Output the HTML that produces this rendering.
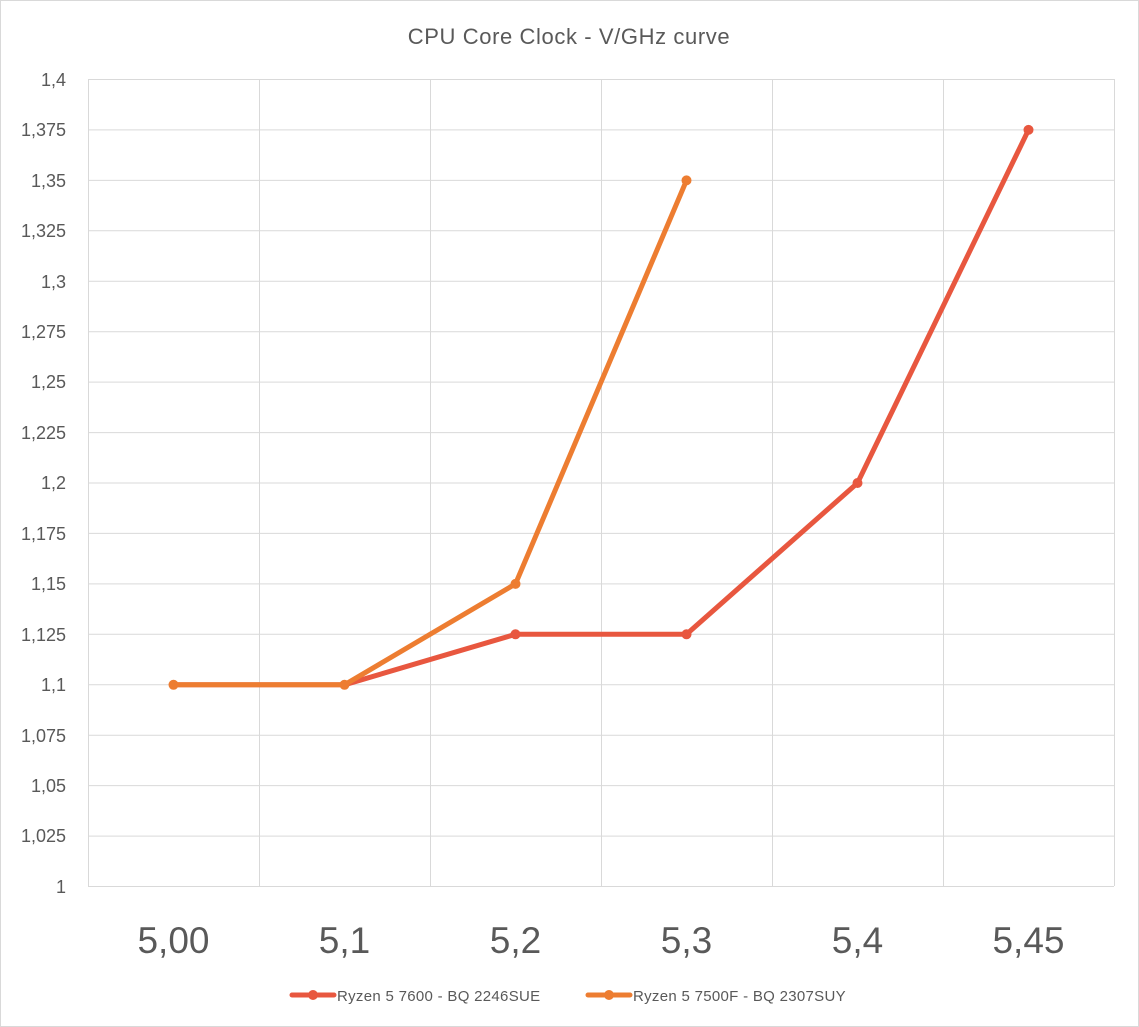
<!DOCTYPE html>
<html><head><meta charset="utf-8"><style>body{margin:0;background:#fff}svg{display:block}</style></head><body>
<svg width="1139" height="1027" viewBox="0 0 1139 1027" xmlns="http://www.w3.org/2000/svg" font-family="Liberation Sans, sans-serif">
<rect x="0.5" y="0.5" width="1138" height="1026" fill="#fff" stroke="#d9d9d9"/>
<text x="569" y="44" text-anchor="middle" font-size="22" letter-spacing="0.6" fill="#595959">CPU Core Clock - V/GHz curve</text>
<g stroke="#d9d9d9" stroke-width="1">
<line x1="88" x2="1114" y1="79.5" y2="79.5"/><line x1="88" x2="1114" y1="129.9" y2="129.9"/><line x1="88" x2="1114" y1="180.4" y2="180.4"/><line x1="88" x2="1114" y1="230.8" y2="230.8"/><line x1="88" x2="1114" y1="281.3" y2="281.3"/><line x1="88" x2="1114" y1="331.7" y2="331.7"/><line x1="88" x2="1114" y1="382.1" y2="382.1"/><line x1="88" x2="1114" y1="432.6" y2="432.6"/><line x1="88" x2="1114" y1="483" y2="483"/><line x1="88" x2="1114" y1="533.4" y2="533.4"/><line x1="88" x2="1114" y1="583.9" y2="583.9"/><line x1="88" x2="1114" y1="634.3" y2="634.3"/><line x1="88" x2="1114" y1="684.8" y2="684.8"/><line x1="88" x2="1114" y1="735.2" y2="735.2"/><line x1="88" x2="1114" y1="785.6" y2="785.6"/><line x1="88" x2="1114" y1="836.1" y2="836.1"/><line x1="88" x2="1114" y1="886.5" y2="886.5"/>
<line x1="88.5" x2="88.5" y1="79" y2="886"/><line x1="259.5" x2="259.5" y1="79" y2="886"/><line x1="430.5" x2="430.5" y1="79" y2="886"/><line x1="601.5" x2="601.5" y1="79" y2="886"/><line x1="772.5" x2="772.5" y1="79" y2="886"/><line x1="943.5" x2="943.5" y1="79" y2="886"/><line x1="1114.5" x2="1114.5" y1="79" y2="886"/>
</g>
<g font-size="18" fill="#595959" text-anchor="end">
<text x="66" y="86">1,4</text><text x="66" y="136">1,375</text><text x="66" y="187">1,35</text><text x="66" y="237">1,325</text><text x="66" y="288">1,3</text><text x="66" y="338">1,275</text><text x="66" y="388">1,25</text><text x="66" y="439">1,225</text><text x="66" y="489">1,2</text><text x="66" y="540">1,175</text><text x="66" y="590">1,15</text><text x="66" y="641">1,125</text><text x="66" y="691">1,1</text><text x="66" y="742">1,075</text><text x="66" y="792">1,05</text><text x="66" y="842">1,025</text><text x="66" y="893">1</text>
</g>
<g font-size="37" fill="#595959" text-anchor="middle">
<text x="173.5" y="953">5,00</text><text x="344.5" y="953">5,1</text><text x="515.5" y="953">5,2</text><text x="686.5" y="953">5,3</text><text x="857.5" y="953">5,4</text><text x="1028.5" y="953">5,45</text>
</g>
<g fill="none" stroke-width="5" stroke-linejoin="round" stroke-linecap="round">
<polyline stroke="#E8573F" points="173.5,684.8 344.5,684.8 515.5,634.3 686.5,634.3 857.5,483 1028.5,129.9"/>
<polyline stroke="#ED7D31" points="173.5,684.8 344.5,684.8 515.5,583.9 686.5,180.4"/>
</g>
<g fill="#E8573F"><circle cx="857.5" cy="483" r="5"/><circle cx="1028.5" cy="129.9" r="5"/><circle cx="515.5" cy="634.3" r="5"/><circle cx="686.5" cy="634.3" r="5"/></g>
<g fill="#ED7D31"><circle cx="173.5" cy="684.8" r="5"/><circle cx="344.5" cy="684.8" r="5"/><circle cx="515.5" cy="583.9" r="5"/><circle cx="686.5" cy="180.4" r="5"/></g>
<line x1="292" x2="334" y1="995" y2="995" stroke="#E8573F" stroke-width="5" stroke-linecap="round"/><circle cx="313" cy="995" r="5" fill="#E8573F"/>
<text x="337" y="1001" font-size="15" letter-spacing="0.3" fill="#595959">Ryzen 5 7600 - BQ 2246SUE</text>
<line x1="588" x2="630" y1="995" y2="995" stroke="#ED7D31" stroke-width="5" stroke-linecap="round"/><circle cx="609" cy="995" r="5" fill="#ED7D31"/>
<text x="633" y="1001" font-size="15" letter-spacing="0.3" fill="#595959">Ryzen 5 7500F - BQ 2307SUY</text>
</svg>
</body></html>
